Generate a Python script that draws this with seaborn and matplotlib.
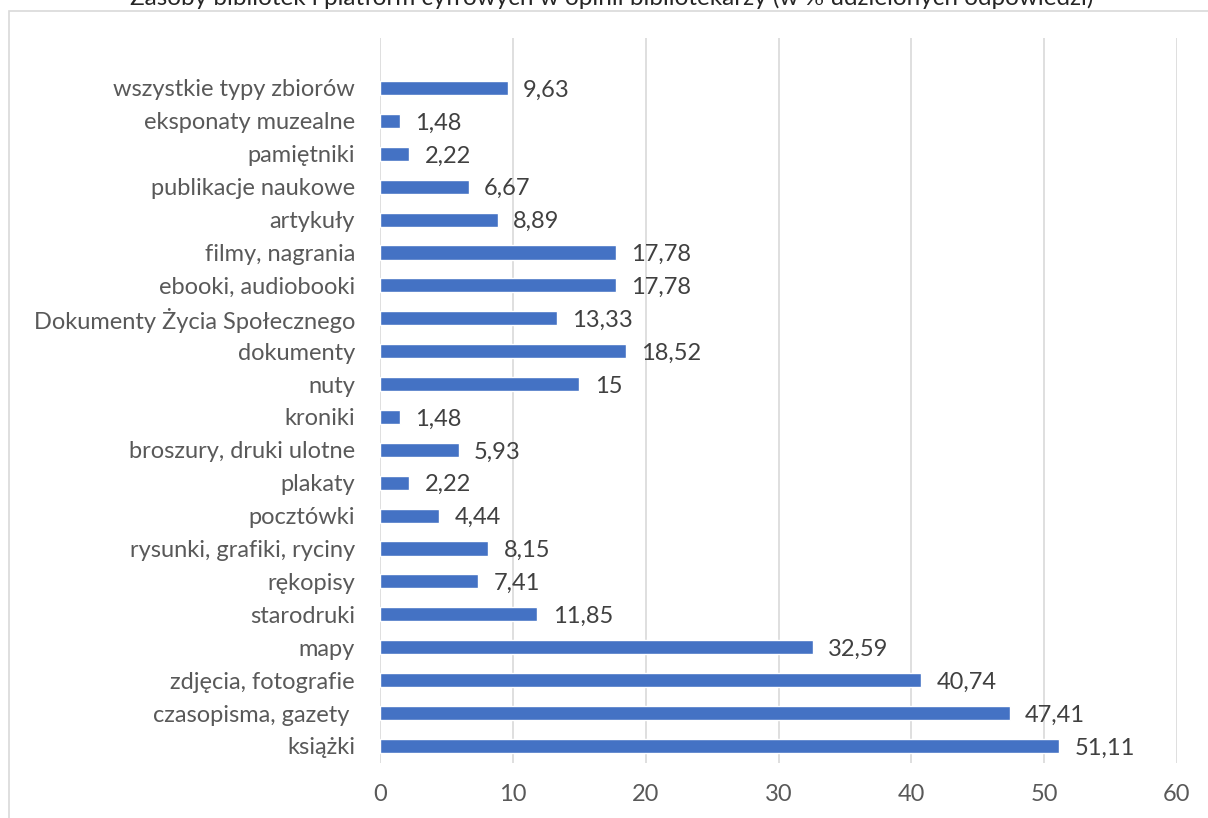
#!/usr/bin/env python3
"""Zasoby bibliotek i platform cyfrowych - horizontal bar chart."""

import matplotlib
matplotlib.use("Agg")
import matplotlib.pyplot as plt
import pandas as pd
import seaborn as sns
from matplotlib.patches import Rectangle

TITLE = "Zasoby bibliotek i platform cyfrowych w opinii bibliotekarzy (w % udzielonych odpowiedzi)"

CATEGORIES = [
    "wszystkie typy zbiorów",
    "eksponaty muzealne",
    "pamiętniki",
    "publikacje naukowe",
    "artykuły",
    "filmy, nagrania",
    "ebooki, audiobooki",
    "Dokumenty Życia Społecznego",
    "dokumenty",
    "nuty",
    "kroniki",
    "broszury, druki ulotne",
    "plakaty",
    "pocztówki",
    "rysunki, grafiki, ryciny",
    "rękopisy",
    "starodruki",
    "mapy",
    "zdjęcia, fotografie",
    "czasopisma, gazety ",
    "książki",
]
VALUES = [9.63, 1.48, 2.22, 6.67, 8.89, 17.78, 17.78, 13.33, 18.52, 15,
          1.48, 5.93, 2.22, 4.44, 8.15, 7.41, 11.85, 32.59, 40.74, 47.41, 51.11]
X_TICKS = [0, 10, 20, 30, 40, 50, 60]

BAR_COLOR = "#4472C4"
LABEL_COLOR = "#595959"
VALUE_COLOR = "#404040"
GRID_COLOR = "#D9D9D9"


def main() -> None:
    df = pd.DataFrame({"kategoria": CATEGORIES, "procent": VALUES})

    sns.set_theme(style="white")
    plt.rcParams["font.family"] = ["Lato", "DejaVu Sans"]

    W, H = 1208, 818
    fig = plt.figure(figsize=(W / 100, H / 100), dpi=100)
    ax = fig.add_axes([380 / W, 1 - 763 / H, (1177 - 380) / W, (763 - 38) / H])

    # outer chart frame
    fig.patches.append(Rectangle((9 / W, -0.01), 1.1, 1 - 11 / H + 0.01,
                                 transform=fig.transFigure, fill=False,
                                 edgecolor="#D9D9D9", linewidth=1.2))

    sns.barplot(data=df, x="procent", y="kategoria", orient="h",
                color=BAR_COLOR, saturation=1, width=0.43, ax=ax, zorder=3)

    for i, v in enumerate(VALUES):
        txt = f"{v:g}".replace(".", ",")
        ax.annotate(txt, (v, i), xytext=(11, -1.5), textcoords="offset points",
                    va="center", ha="left", fontsize=17, color=VALUE_COLOR)

    ax.set_xlim(0, 60)
    ax.set_ylim(20.52, -1.52)
    ax.set_xticks(X_TICKS)
    ax.xaxis.grid(True, color=GRID_COLOR, linewidth=1.2, zorder=0)
    ax.set_axisbelow(True)
    for s in ax.spines.values():
        s.set_visible(False)
    ax.set_xlabel("")
    ax.set_ylabel("")
    ax.tick_params(axis="x", length=0, pad=15, labelsize=17, labelcolor=LABEL_COLOR)
    ax.tick_params(axis="y", length=0, pad=18, labelsize=17, labelcolor=LABEL_COLOR)

    fig.text(612 / W, 1 - 5 / H, TITLE, ha="center", va="baseline",
             fontsize=17.5, color="#262626")

    fig.savefig("out.png", dpi=100)
    plt.close(fig)


if __name__ == "__main__":
    main()
